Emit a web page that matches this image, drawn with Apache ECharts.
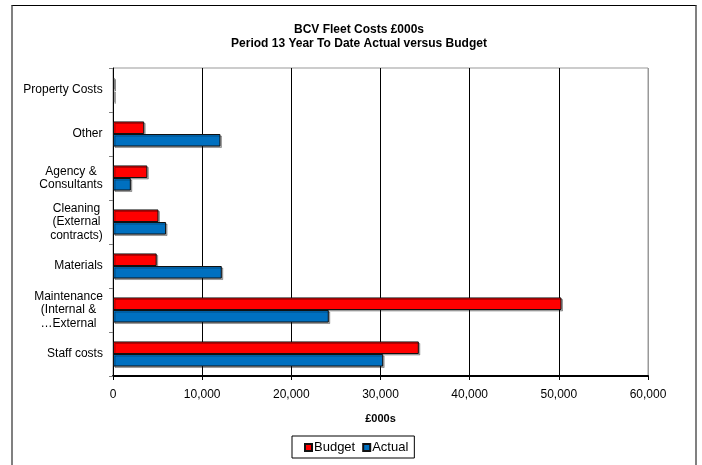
<!DOCTYPE html>
<html>
<head>
<meta charset="utf-8">
<title>BCV Fleet Costs</title>
<script src="https://cdn.jsdelivr.net/npm/echarts@6/dist/echarts.min.js"></script>
<style>
  html, body { margin: 0; padding: 0; background: #fff; }
  #frame {
    position: absolute; left: 11px; top: 5px; width: 686px; height: 480px;
    border-top: 1px solid #000; border-left: 2px solid #808080; border-right: 2px solid #808080;
    box-sizing: border-box;
  }
  #chart { position: absolute; left: 0; top: 0; width: 702px; height: 465px; }
</style>
</head>
<body>
<div id="frame"></div>
<div id="chart"></div>
<script>
// Cost categories, listed from the bottom of the chart upwards
const categories = [
  'Staff costs',
  'Maintenance\n(Internal &\n\u2026External',
  'Materials',
  'Cleaning\n(External\ncontracts)',
  'Agency &\nConsultants',
  'Other',
  'Property Costs'
];
// Year-to-date values, £000s
const budget = [34300, 50300, 4900, 5100, 3850, 3500, 160];
const actual = [30300, 24200, 12200, 5950, 2000, 12050, 140];
// Value-axis ticks
const xTicks = [0, 10000, 20000, 30000, 40000, 50000, 60000];

const FONT = '"Liberation Sans", Arial, sans-serif';

// Multi-line category names are centred line by line inside a right-aligned block
const measureCtx = document.createElement('canvas').getContext('2d');
measureCtx.font = '12px ' + FONT;
const labelRich = {};
categories.forEach((c, i) => {
  const w = Math.max(...c.split('\n').map(s => measureCtx.measureText(s).width));
  labelRich['c' + i] = {
    width: Math.ceil(w), align: 'center', lineHeight: 13.5,
    fontSize: 12, fontFamily: FONT, color: '#000'
  };
});

const chart = echarts.init(document.getElementById('chart'), null, { renderer: 'canvas' });

const barStyle = (color) => ({
  color: color,
  borderColor: '#111',
  borderWidth: 1,
  shadowColor: 'rgba(0,0,0,0.3)',
  shadowOffsetX: 1.5,
  shadowOffsetY: 1.5,
  shadowBlur: 0
});

chart.setOption({
  animation: false,
  backgroundColor: 'transparent',
  title: {
    text: 'BCV Fleet Costs \u00a3000s\nPeriod 13 Year To Date Actual versus Budget',
    left: 359,
    textAlign: 'center',
    top: 22,
    padding: 0,
    textStyle: { fontFamily: FONT, fontSize: 12, fontWeight: 'bold', color: '#000', lineHeight: 14.5 }
  },
  legend: {
    data: ['Budget', 'Actual'],
    left: 292,
    top: 436,
    padding: [5, 6, 4, 12],
    borderColor: '#000',
    borderWidth: 1,
    itemWidth: 7,
    itemHeight: 7,
    itemGap: 7,
    icon: 'rect',
    textStyle: { fontFamily: FONT, fontSize: 13, color: '#000', padding: [0, 0, 0, -3] }
  },
  grid: {
    left: 113, right: 54, top: 68, bottom: 89,
    show: true, borderColor: '#999', borderWidth: 1,
    outerBoundsMode: 'none'
  },
  xAxis: {
    type: 'value',
    min: xTicks[0],
    max: xTicks[xTicks.length - 1],
    interval: xTicks[1] - xTicks[0],
    name: '\u00a3000s',
    nameLocation: 'middle',
    nameGap: 37,
    nameTextStyle: { fontFamily: FONT, fontSize: 11, fontWeight: 'bold', color: '#000' },
    axisLine: { show: true, lineStyle: { color: '#000', width: 2 } },
    axisTick: { show: true, length: 4, lineStyle: { color: '#000' } },
    axisLabel: {
      margin: 13,
      fontFamily: FONT, fontSize: 12, color: '#000',
      formatter: (v) => v.toLocaleString('en-US')
    },
    splitLine: {
      show: true,
      lineStyle: { color: ['#000', '#000', '#000', '#000', '#000', '#000', '#999'], width: 1 }
    }
  },
  yAxis: {
    type: 'category',
    data: categories,
    axisLine: { show: true, lineStyle: { color: '#000', width: 1 } },
    axisTick: { show: true, length: 4, lineStyle: { color: '#808080' } },
    axisLabel: {
      margin: 10,
      fontFamily: FONT, fontSize: 12, color: '#000',
      formatter: (v, i) => '{c' + i + '|' + v + '}',
      rich: labelRich
    },
    splitLine: { show: false }
  },
  series: [
    {
      name: 'Budget',
      type: 'bar',
      data: budget,
      barGap: '0%',
      barCategoryGap: '43%',
      itemStyle: barStyle('#FF0000')
    },
    {
      name: 'Actual',
      type: 'bar',
      data: actual,
      barGap: '0%',
      barCategoryGap: '43%',
      itemStyle: barStyle('#0070C0')
    }
  ]
});
</script>
</body>
</html>
